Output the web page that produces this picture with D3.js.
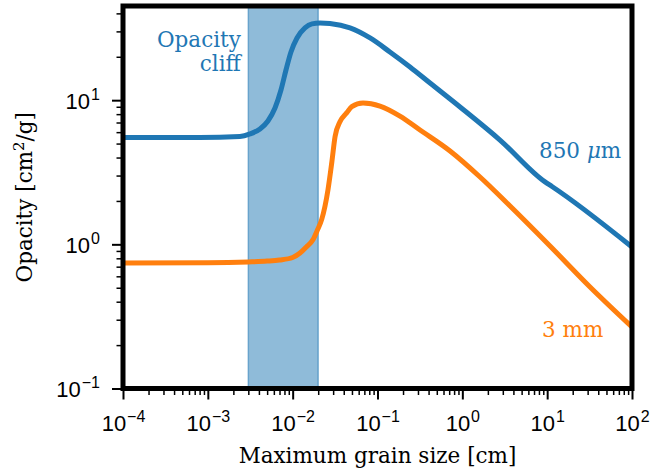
<!DOCTYPE html>
<html lang="en">
<head>
<meta charset="UTF-8">
<title>Opacity cliff</title>
<script src="https://d3js.org/d3.v7.min.js"></script>
<style>
  * { margin: 0; padding: 0; }
  body { background: #fff; }
  svg { display: block; font-family: "DejaVu Serif", serif; }
</style>
</head>
<body>
<div id="chart"></div>
<script>
// grain size [cm] and opacity [cm^2/g]
const size850 = [1e-4, 8e-4, 2.39e-3, 3.14e-3, 4.12e-3, 5.11e-3, 6.19e-3, 7.28e-3, 8.34e-3, 9.55e-3, 0.01125, 0.01396, 0.0169, 0.021, 0.0275, 0.0474, 0.0817, 0.14, 0.2415, 0.416, 0.94, 2.78, 9.44, 11.4, 100];
const opac850 = [5.51, 5.51, 5.6, 5.83, 6.31, 7.17, 8.82, 11.76, 16.19, 21.6, 27.0, 31.7, 33.8, 34.3, 34.0, 31.7, 27.0, 21.6, 17.0, 13.15, 8.97, 5.29, 2.71, 2.52, 0.958];

const size3mm = [1e-4, 1e-3, 3e-3, 5e-3, 7e-3, 0.01, 0.0122, 0.0145, 0.0174, 0.0195, 0.022, 0.0261, 0.0289, 0.0316, 0.0362, 0.0435, 0.0498, 0.0675, 0.107, 0.184, 0.317, 0.716, 1.616, 3.65, 10.8, 32.0, 100];
const opac3mm = [0.742, 0.745, 0.755, 0.765, 0.778, 0.81, 0.87, 0.96, 1.08, 1.25, 1.49, 2.4, 3.69, 5.59, 7.1, 8.19, 9.02, 9.56, 9.11, 7.76, 6.21, 4.44, 2.93, 1.845, 0.974, 0.506, 0.267];

const cliffBand = [0.003, 0.02];
const xTicks = [1e-4, 1e-3, 1e-2, 1e-1, 1, 10, 100];
const xExps = ["−4", "−3", "−2", "−1", "0", "1", "2"];
const yTicks = [0.1, 1, 10];
const yExps = ["−1", "0", "1"];

const W = 671, H = 472;
const mLeft = 123, mRight = 632, mTop = 6, mBottom = 388.5;
const blue = "#1f77b4", orange = "#ff7f0e";

const svg = d3.select("#chart").append("svg")
    .attr("width", W).attr("height", H);

const x = d3.scaleLog().domain([1e-4, 100]).range([mLeft, mRight]);
const y = d3.scaleLog().domain([0.1, 45]).range([mBottom, mTop]);

svg.append("clipPath").attr("id", "clip")
  .append("rect")
    .attr("x", mLeft).attr("y", mTop)
    .attr("width", mRight - mLeft).attr("height", mBottom - mTop);

const plot = svg.append("g").attr("clip-path", "url(#clip)");

// opacity cliff band
plot.append("rect")
    .attr("x", x(cliffBand[0]))
    .attr("y", mTop)
    .attr("width", x(cliffBand[1]) - x(cliffBand[0]))
    .attr("height", mBottom - mTop)
    .attr("fill", blue).attr("fill-opacity", 0.5)
    .attr("stroke", blue).attr("stroke-opacity", 0.5)
    .attr("stroke-width", 1.5);

const line = d3.line()
    .x(d => x(d[0]))
    .y(d => y(d[1]))
    .curve(d3.curveMonotoneX);

plot.append("path")
    .datum(d3.zip(size850, opac850))
    .attr("d", line)
    .attr("fill", "none").attr("stroke", blue)
    .attr("stroke-width", 5).attr("stroke-linejoin", "round");

plot.append("path")
    .datum(d3.zip(size3mm, opac3mm))
    .attr("d", line)
    .attr("fill", "none").attr("stroke", orange)
    .attr("stroke-width", 5).attr("stroke-linejoin", "round");

// minor ticks
function minors(lo, hi) {
  const out = [];
  for (let e = lo; e < hi; e++)
    for (let k = 2; k <= 9; k++) out.push(k * Math.pow(10, e));
  return out;
}

svg.append("g")
    .attr("transform", `translate(0,${mBottom})`)
    .call(d3.axisBottom(x).tickValues(minors(-4, 2)).tickSize(6.5).tickFormat(""))
    .call(g => g.select(".domain").remove())
    .call(g => g.selectAll("line").attr("stroke", "#000").attr("stroke-width", 1.5));

svg.append("g")
    .attr("transform", `translate(${mLeft},0)`)
    .call(d3.axisLeft(y).tickValues(minors(-1, 1).concat([20, 30, 40])).tickSize(6.5).tickFormat(""))
    .call(g => g.select(".domain").remove())
    .call(g => g.selectAll("line").attr("stroke", "#000").attr("stroke-width", 1.5));

// major ticks
const xAxis = svg.append("g")
    .attr("transform", `translate(0,${mBottom})`)
    .call(d3.axisBottom(x).tickValues(xTicks).tickSize(11).tickFormat(""))
    .call(g => g.select(".domain").remove())
    .call(g => g.selectAll("line").attr("stroke", "#000").attr("stroke-width", 2));

xAxis.selectAll(".tick").each(function(d, i) {
  const t = d3.select(this).append("text")
      .attr("x", 0).attr("y", 42)
      .attr("fill", "#000").attr("font-size", 22)
      .attr("text-anchor", "middle");
  t.append("tspan").text("10");
  t.append("tspan").attr("dy", -9).attr("dx", 1).attr("font-size", 16).text(xExps[i]);
});

const yAxis = svg.append("g")
    .attr("transform", `translate(${mLeft},0)`)
    .call(d3.axisLeft(y).tickValues(yTicks).tickSize(11).tickFormat(""))
    .call(g => g.select(".domain").remove())
    .call(g => g.selectAll("line").attr("stroke", "#000").attr("stroke-width", 2));

yAxis.selectAll(".tick").each(function(d, i) {
  const t = d3.select(this).append("text")
      .attr("x", -23).attr("y", 8)
      .attr("fill", "#000").attr("font-size", 22)
      .attr("text-anchor", "end");
  t.append("tspan").text("10");
  t.append("tspan").attr("dy", -9).attr("dx", 1).attr("font-size", 16).text(yExps[i]);
});

// frame
svg.append("rect")
    .attr("x", mLeft).attr("y", mTop)
    .attr("width", mRight - mLeft).attr("height", mBottom - mTop)
    .attr("fill", "none").attr("stroke", "#000").attr("stroke-width", 5);

// axis labels
svg.append("text")
    .attr("x", (mLeft + mRight) / 2).attr("y", 463)
    .attr("text-anchor", "middle").attr("font-size", 21.5)
    .text("Maximum grain size [cm]");

const yl = svg.append("text")
    .attr("transform", `translate(32,${(mTop + mBottom) / 2}) rotate(-90)`)
    .attr("text-anchor", "middle").attr("font-size", 21.5);
yl.append("tspan").text("Opacity [cm");
yl.append("tspan").attr("dy", -8).attr("font-size", 15).text("2");
yl.append("tspan").attr("dy", 8).text("/g]");

// annotations
const cliff = svg.append("text")
    .attr("text-anchor", "end").attr("font-size", 21.5).attr("fill", blue);
cliff.append("tspan").attr("x", x(0.00245)).attr("y", 47).text("Opacity");
cliff.append("tspan").attr("x", x(0.00245)).attr("y", 71).text("cliff");

const l850 = svg.append("text")
    .attr("x", 539).attr("y", 158)
    .attr("font-size", 21.5).attr("fill", blue);
l850.append("tspan").text("850 ");
l850.append("tspan").attr("font-style", "italic").text("μ");
l850.append("tspan").text("m");

svg.append("text")
    .attr("x", 542).attr("y", 337)
    .attr("font-size", 21.5).attr("fill", orange)
    .text("3 mm");
</script>
</body>
</html>
